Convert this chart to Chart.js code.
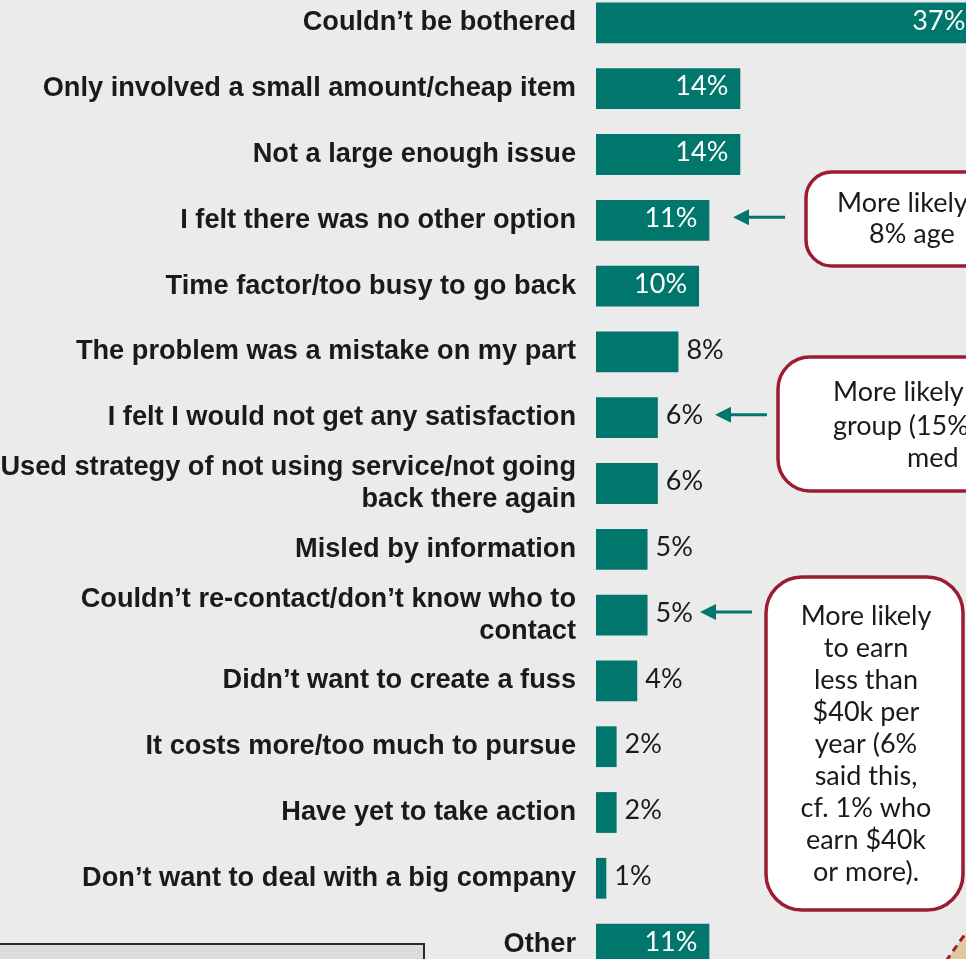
<!DOCTYPE html>
<html>
<head>
<meta charset="utf-8">
<script src="https://cdn.jsdelivr.net/npm/chart.js@4/dist/chart.umd.min.js"></script>
<style>
  html, body { margin: 0; padding: 0; background: #ebebeb; overflow: hidden; width: 966px; height: 959px; }
  #wrap { position: absolute; left: 0; top: -10px; width: 1000px; height: 987px; }
</style>
</head>
<body>
<div id="wrap"><canvas id="reasons"></canvas></div>
<script>
// Reasons for not taking action (percent of respondents)
const reasons = [
  "Couldn’t be bothered",
  "Only involved a small amount/cheap item",
  "Not a large enough issue",
  "I felt there was no other option",
  "Time factor/too busy to go back",
  "The problem was a mistake on my part",
  "I felt I would not get any satisfaction",
  ["Used strategy of not using service/not going", "back there again"],
  "Misled by information",
  ["Couldn’t re-contact/don’t know who to", "contact"],
  "Didn’t want to create a fuss",
  "It costs more/too much to pursue",
  "Have yet to take action",
  "Don’t want to deal with a big company",
  "Other"
];
const shares = [37, 14, 14, 11, 10, 8, 6, 6, 5, 5, 4, 2, 2, 1, 11];
const valueLabels = ["37%", "14%", "14%", "11%", "10%", "8%", "6%", "6%", "5%", "5%", "4%", "2%", "2%", "1%", "11%"];

// Rows that carry a call-out arrow
const arrowRows = [3, 6, 9];

const TEAL = "#00766c";
const MAROON = "#9b1b30";
const INK = "#1a1a1a";
const SHIFT = 10; // canvas sits 10px above the page top

function roundRect(ctx, x, y, w, h, r) {
  ctx.beginPath();
  ctx.moveTo(x + r, y);
  ctx.lineTo(x + w - r, y);
  ctx.arcTo(x + w, y, x + w, y + r, r);
  ctx.lineTo(x + w, y + h - r);
  ctx.arcTo(x + w, y + h, x + w - r, y + h, r);
  ctx.lineTo(x + r, y + h);
  ctx.arcTo(x, y + h, x, y + h - r, r);
  ctx.lineTo(x, y + r);
  ctx.arcTo(x, y, x + r, y, r);
  ctx.closePath();
}

const valueLabelPlugin = {
  id: "valueLabels",
  afterDatasetsDraw(chart) {
    const ctx = chart.ctx;
    const meta = chart.getDatasetMeta(0);
    ctx.save();
    ctx.font = "400 27px Lato";
    ctx.textBaseline = "middle";
    meta.data.forEach((bar, i) => {
      const v = shares[i];
      const y = bar.y - 2;
      if (v >= 10) {
        ctx.fillStyle = "#ffffff";
        ctx.textAlign = "right";
        ctx.fillText(valueLabels[i], bar.x - 12, y);
      } else {
        ctx.fillStyle = INK;
        ctx.textAlign = "left";
        ctx.fillText(valueLabels[i], bar.x + 8, y);
      }
    });
    ctx.restore();
  }
};

const calloutPlugin = {
  id: "callouts",
  afterDraw(chart) {
    const ctx = chart.ctx;
    const yScale = chart.scales.y;
    const Y = (py) => py + SHIFT;
    ctx.save();

    // arrows pointing at the flagged bars
    const arrowX = [[733, 785], [715, 767], [700, 752]];
    arrowRows.forEach((row, k) => {
      const y = yScale.getPixelForValue(row) - 3;
      const [tip, tail] = arrowX[k];
      ctx.strokeStyle = TEAL;
      ctx.fillStyle = TEAL;
      ctx.lineWidth = 3;
      ctx.beginPath();
      ctx.moveTo(tail, y);
      ctx.lineTo(tip + 12, y);
      ctx.stroke();
      ctx.beginPath();
      ctx.moveTo(tip, y);
      ctx.lineTo(tip + 16, y - 8);
      ctx.lineTo(tip + 16, y + 8);
      ctx.closePath();
      ctx.fill();
    });

    // call-out boxes
    ctx.lineWidth = 3.5;
    ctx.strokeStyle = MAROON;
    ctx.fillStyle = "#ffffff";
    const boxes = [
      [806, 172, 260, 94, 26],
      [778, 357, 260, 134, 32],
      [766, 577, 197, 333, 36]
    ];
    boxes.forEach(([x, y, w, h, r]) => {
      roundRect(ctx, x, Y(y), w, h, r);
      ctx.fill();
      ctx.stroke();
    });

    ctx.fillStyle = INK;
    ctx.font = "400 27px Lato";
    ctx.textBaseline = "middle";
    ctx.textAlign = "left";
    ctx.fillText("More likely", 837, Y(203));
    ctx.fillText("8% age", 869, Y(234));
    ctx.fillText("More likely", 833, Y(392));
    ctx.fillText("group (15%", 833, Y(426));
    ctx.fillText("med", 907, Y(458));

    ctx.textAlign = "center";
    const lines = ["More likely", "to earn", "less than", "$40k per", "year (6%",
                   "said this,", "cf. 1% who", "earn $40k", "or more)."];
    lines.forEach((t, i) => ctx.fillText(t, 866, Y(616 + i * 32)));

    // note panel at the lower left
    ctx.fillStyle = "#dcdcdc";
    ctx.strokeStyle = "#2a2a2a";
    ctx.lineWidth = 2;
    ctx.fillRect(-2, Y(944), 426, 40);
    ctx.beginPath();
    ctx.moveTo(-2, Y(944));
    ctx.lineTo(424, Y(944));
    ctx.lineTo(424, Y(990));
    ctx.stroke();

    // corner of the illustration at the lower right
    ctx.fillStyle = "#e2c99d";
    ctx.beginPath();
    ctx.moveTo(946, Y(961));
    ctx.lineTo(968, Y(930));
    ctx.lineTo(968, Y(961));
    ctx.closePath();
    ctx.fill();
    ctx.strokeStyle = MAROON;
    ctx.lineWidth = 3;
    ctx.setLineDash([7, 5]);
    ctx.beginPath();
    ctx.moveTo(946, Y(961));
    ctx.lineTo(968, Y(930));
    ctx.stroke();
    ctx.setLineDash([]);

    ctx.restore();
  }
};

new Chart(document.getElementById("reasons"), {
  type: "bar",
  data: {
    labels: reasons,
    datasets: [{
      data: shares,
      backgroundColor: TEAL,
      borderWidth: 0,
      barPercentage: 0.62,
      categoryPercentage: 1.0
    }]
  },
  options: {
    indexAxis: "y",
    responsive: true,
    maintainAspectRatio: false,
    animation: false,
    layout: { padding: 0 },
    plugins: { legend: { display: false }, tooltip: { enabled: false } },
    scales: {
      x: { display: false, min: 0, max: 39.2 },
      y: {
        grid: { display: false, drawTicks: false },
        border: { display: false },
        afterFit(scale) {
          scale.width = 596;
          scale.paddingTop = 0;
          scale.paddingBottom = 0;
        },
        ticks: {
          autoSkip: false,
          padding: 20,
          color: INK,
          font: { family: "'Liberation Sans', Arial, sans-serif", size: 27.2, weight: "bold", lineHeight: 1.18 }
        }
      }
    }
  },
  plugins: [valueLabelPlugin, calloutPlugin]
});
</script>
</body>
</html>
